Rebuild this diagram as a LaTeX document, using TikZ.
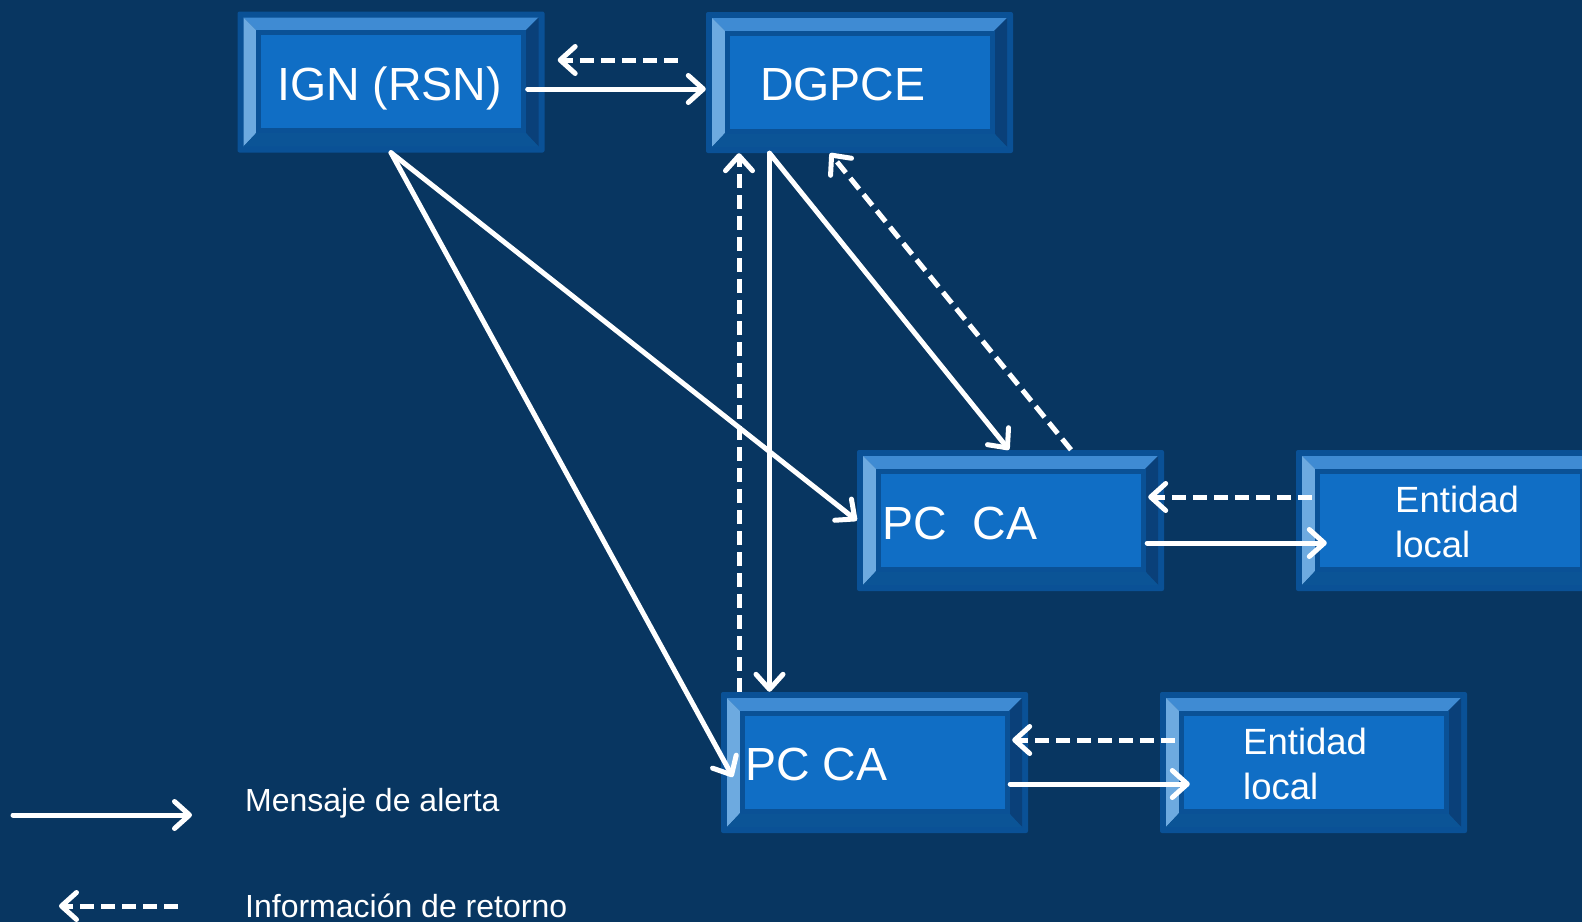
\documentclass[tikz,border=0pt]{standalone}
\usepackage{fontspec}
\setmainfont{Liberation Sans}
\usetikzlibrary{arrows.meta}

\definecolor{fondo}{HTML}{083661}
\definecolor{boxface}{HTML}{106EC5}
\definecolor{boxedge}{HTML}{0A5196}
\definecolor{beveltop}{HTML}{3F8BD3}
\definecolor{bevelleft}{HTML}{6DAAE0}
\definecolor{bevelright}{HTML}{0A4079}
\definecolor{bevelbottom}{HTML}{0B5496}

\begin{document}
\begin{tikzpicture}[line cap=round,line join=round,x=1pt,y=-1pt,
  bevelbox/.style={rectangle,fill=boxedge,rounded corners=2pt,minimum width=307pt,minimum height=141pt,inner sep=0pt,
    path picture={
      \coordinate (onw) at ([shift={(6pt,-6pt)}]path picture bounding box.north west);
      \coordinate (one) at ([shift={(-6pt,-6pt)}]path picture bounding box.north east);
      \coordinate (osw) at ([shift={(6pt,6pt)}]path picture bounding box.south west);
      \coordinate (ose) at ([shift={(-6pt,6pt)}]path picture bounding box.south east);
      \coordinate (inw) at ([shift={(21pt,-21pt)}]path picture bounding box.north west);
      \coordinate (ine) at ([shift={(-21pt,-21pt)}]path picture bounding box.north east);
      \coordinate (isw) at ([shift={(21pt,22pt)}]path picture bounding box.south west);
      \coordinate (ise) at ([shift={(-21pt,22pt)}]path picture bounding box.south east);
      \fill[beveltop,sharp corners] (onw) -- (one) -- (ine) -- (inw) -- cycle;
      \fill[bevelleft,sharp corners] (onw) -- (inw) -- (isw) -- (osw) -- cycle;
      \fill[bevelright,sharp corners] (one) -- (ose) -- (ise) -- (ine) -- cycle;
      \fill[bevelbottom,sharp corners] (osw) -- (isw) -- (ise) -- (ose) -- cycle;
      \draw[boxedge,fill=boxface,line width=5pt,sharp corners,line join=miter] (inw) rectangle (ise);
    }},
  boxlabel/.style={text=white,inner sep=0pt,font=\fontsize{46.5}{50}\selectfont},
  entlabel/.style={text=white,inner sep=0pt,align=left,font=\fontsize{36.5}{45}\selectfont},
  keylabel/.style={text=white,inner sep=0pt,font=\fontsize{32}{36}\selectfont},
  alertline/.style={white,line width=5pt,-{Straight Barb[length=15pt,width=27pt,round]}},
  returnline/.style={alertline,line cap=butt,dash pattern=on 14pt off 7pt}]
			\useasboundingbox (0,0) rectangle (1582,922);
			\fill [fondo] (0,0) rectangle (1582,922);
			\clip (0,0) rectangle (1582,922);
			% boxes
			\node [bevelbox] (ign) at (391,82) {};
			\node [bevelbox] (dgpce) at (859.5,82.5) {};
			\node [bevelbox] (pca) at (1010.5,520.5) {};
			\node [bevelbox] (enta) at (1449.5,520.5) {};
			\node [bevelbox] (pcb) at (874.5,762.5) {};
			\node [bevelbox] (entb) at (1313.5,762.5) {};
			\node [boxlabel,anchor=base west] (ignt) at (277,100) {IGN (RSN)};
			\node [boxlabel,anchor=base west] (dgpcet) at (760,100) {DGPCE};
			\node [boxlabel,anchor=base west] (pcat) at (882,539) {PC\ \ CA};
			\node [boxlabel,anchor=base west] (pcbt) at (745,780) {PC CA};
			% base of a two-line node is its last line
			\node [entlabel,anchor=base west] (entat) at (1395,557) {Entidad\\local};
			\node [entlabel,anchor=base west] (entbt) at (1243,799) {Entidad\\local};
			% alert messages
			\draw [alertline] ([shift={(-17pt,-7pt)}]ign.east) -- ([yshift=-6.5pt]dgpce.west);
			\draw [alertline] (ign.south) -- (pca.west);
			\draw [alertline] (ign.south) -- ([shift={(12pt,-14.5pt)}]pcb.west);
			\draw [alertline] ([xshift=-90pt]dgpce.south) -- ([xshift=-105pt]pcb.north);
			\draw [alertline] ([xshift=-90pt]dgpce.south) -- ([xshift=-1.5pt]pca.north);
			\draw [alertline] ([shift={(-17pt,-22.5pt)}]pca.east) -- ([shift={(31pt,-22.5pt)}]enta.west);
			\draw [alertline] ([shift={(-18pt,-21.5pt)}]pcb.east) -- ([shift={(30pt,-21.5pt)}]entb.west);
			% feedback
			\draw [returnline] ([shift={(-28pt,22.5pt)}]dgpce.west) -- ([shift={(13pt,22pt)}]ign.east);
			\draw [returnline] ([xshift=-135.5pt]pcb.north) -- ([xshift=-120.5pt]dgpce.south);
			\draw [returnline] ([xshift=60.5pt]pca.north) -- ([xshift=-29.5pt]dgpce.south);
			\draw [returnline] ([shift={(16pt,23.5pt)}]enta.west) -- ([shift={(-16pt,23.5pt)}]pca.east);
			\draw [returnline] ([shift={(15pt,22.5pt)}]entb.west) -- ([shift={(-16pt,22.5pt)}]pcb.east);
			% legend
			\coordinate (keya1) at (13,815);
			\coordinate (keya2) at (192,815);
			\coordinate (keyb1) at (178,906);
			\coordinate (keyb2) at (59,906);
			\draw [alertline] (keya1) -- (keya2);
			\draw [returnline] (keyb1) -- (keyb2);
			\node [keylabel,anchor=base west] (keyat) at (245,811) {Mensaje de alerta};
			\node [keylabel,anchor=base west] (keybt) at (245,917) {Información de retorno};
\end{tikzpicture}
\end{document}
